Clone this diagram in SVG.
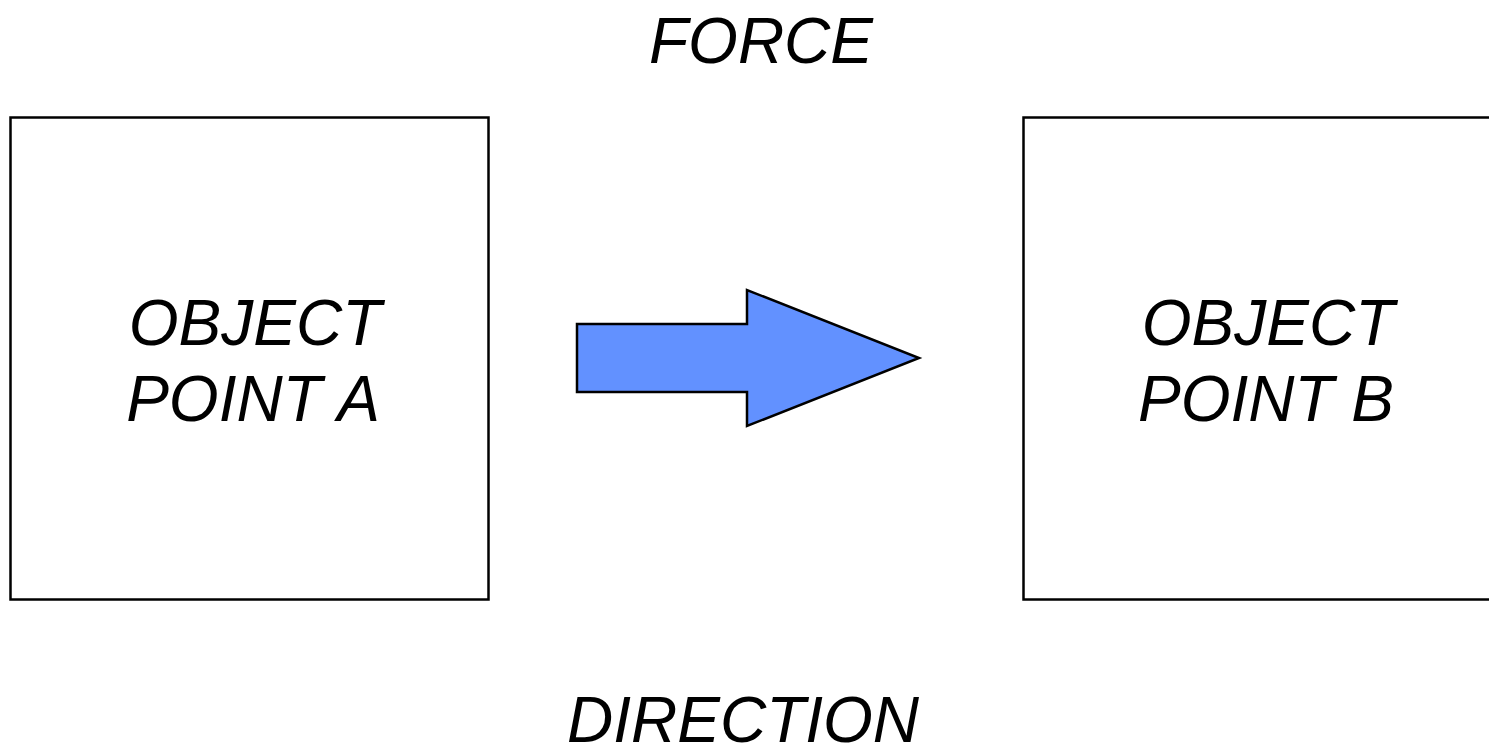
<svg xmlns="http://www.w3.org/2000/svg" width="1489" height="747" viewBox="0 0 1489 747">
  <style>
    .box { fill: #ffffff; stroke: #000000; stroke-width: 2.5; }
    .lbl { font-family: "Liberation Sans", Arial, sans-serif; font-style: italic; font-size: 64px; fill: #000000; text-anchor: middle; }
    .arrow { fill: #6291FF; stroke: #000000; stroke-width: 2.5; stroke-linejoin: miter; }
  </style>
  <rect width="1489" height="747" fill="#ffffff"/>

  <text id="force-label" class="lbl" x="761" y="63">FORCE</text>

  <g id="point-a">
    <rect class="box" x="10.5" y="117.5" width="478" height="482"/>
    <text class="lbl" x="255" y="345">OBJECT</text>
    <text class="lbl" x="253" y="421">POINT A</text>
  </g>

  <g id="point-b">
    <rect class="box" x="1023.5" y="117.5" width="478" height="482"/>
    <text class="lbl" x="1268" y="345">OBJECT</text>
    <text class="lbl" x="1266" y="421">POINT B</text>
  </g>

  <g id="connectors">
    <polygon class="arrow" points="577,324 747,324 747,290 919,358 747,426 747,392 577,392"/>
  </g>

  <text id="direction-label" class="lbl" x="743" y="742">DIRECTION</text>
</svg>
